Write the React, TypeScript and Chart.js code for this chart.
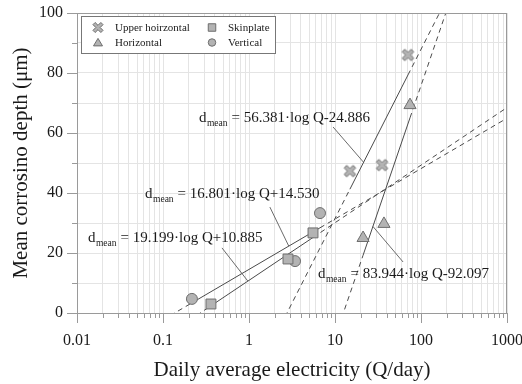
import React, { useEffect, useRef } from 'react';
import { Chart, registerables } from 'chart.js';

Chart.register(...registerables);

const SERIF = '"Liberation Serif", "Times New Roman", serif';

// ---------- data ----------
const seriesNames = ['Upper hoirzontal', 'Horizontal', 'Skinplate', 'Vertical'];

const upperHorizontalQ = [14.9, 35.2, 70.6];
const upperHorizontalD = [47.3, 49.3, 86.0];
const horizontalQ = [21.2, 37.1, 74.5];
const horizontalD = [25.0, 29.7, 69.3];
const skinplateQ = [0.361, 2.84, 5.55];
const skinplateD = [3.0, 18.0, 26.7];
const verticalQ = [0.217, 3.43, 6.69];
const verticalD = [4.7, 17.3, 33.3];

// fitted lines: d_mean = slope * log Q + intercept
const fitSlope = [56.381, 83.944, 19.199, 16.801];
const fitIntercept = [-24.886, -92.097, 10.885, 14.53];

const xTickValues = [0.01, 0.1, 1, 10, 100, 1000];
const xTickLabels = ['0.01', '0.1', '1', '10', '100', '1000'];
const yTickLabels = ['0', '20', '40', '60', '80', '100'];

// equation label placement (data coordinates)
const labelAnchorQ = [0.262, 6.34, 0.0134, 0.0618];
const labelAnchorD = [63.7, 11.7, 23.7, 38.3];
const leaderStartQ = [9.5, 61.9, 0.485, 1.75];
const leaderStartD = [62, 17, 21.7, 35.3];
const leaderEndQ = [21.5, 27.6, 0.97, 2.9];

// ---------- styles ----------
const FILL = '#b3b3b3';
const STROKE = '#6e6e6e';
const LINE = '#4a4a4a';
const GRID = '#e4e4e4';
const AXIS = '#9a9a9a';
const TEXT = '#1a1a1a';

function crossPath(g: CanvasRenderingContext2D, cx: number, cy: number, L: number, w: number) {
  const pts = [[-w, -L], [w, -L], [w, -w], [L, -w], [L, w], [w, w], [w, L], [-w, L], [-w, w], [-L, w], [-L, -w], [-w, -w]];
  const c = Math.SQRT1_2;
  g.beginPath();
  pts.forEach(([x, y], i) => {
    const px = cx + (x - y) * c;
    const py = cy + (x + y) * c;
    if (i) g.lineTo(px, py); else g.moveTo(px, py);
  });
  g.closePath();
}

function makeCross(size: number, L: number, w: number): HTMLCanvasElement {
  const c = document.createElement('canvas');
  c.width = size;
  c.height = size;
  const g = c.getContext('2d')!;
  crossPath(g, size / 2, size / 2, L, w);
  g.fillStyle = FILL;
  g.fill();
  g.lineWidth = 1;
  g.strokeStyle = STROKE;
  g.stroke();
  return c;
}

function drawMarker(g: CanvasRenderingContext2D, kind: number, x: number, y: number, s: number) {
  g.save();
  g.fillStyle = FILL;
  g.strokeStyle = STROKE;
  g.lineWidth = 1;
  if (kind === 0) {
    crossPath(g, x, y, s * 0.62, s * 0.17);
  } else if (kind === 1) {
    g.beginPath();
    g.moveTo(x, y - s * 0.55);
    g.lineTo(x + s * 0.6, y + s * 0.45);
    g.lineTo(x - s * 0.6, y + s * 0.45);
    g.closePath();
  } else if (kind === 2) {
    g.beginPath();
    g.rect(x - s / 2, y - s / 2, s, s);
  } else {
    g.beginPath();
    g.arc(x, y, s / 2, 0, Math.PI * 2);
  }
  g.fill();
  g.stroke();
  g.restore();
}

function fmtEq(i: number) {
  const b = fitIntercept[i];
  return `= ${fitSlope[i].toFixed(3)}\u00B7log Q${b < 0 ? '-' : '+'}${Math.abs(b).toFixed(3)}`;
}

export default function App() {
  const ref = useRef<HTMLCanvasElement>(null);

  useEffect(() => {
    document.body.style.margin = '0';
    const canvas = ref.current!;
    const cross = makeCross(15, 6.3, 1.8);
    const fit = (i: number, q: number) => fitSlope[i] * Math.log10(q) + fitIntercept[i];
    const seriesQ = [upperHorizontalQ, horizontalQ, skinplateQ, verticalQ];
    const seriesD = [upperHorizontalD, horizontalD, skinplateD, verticalD];
    const styles: any[] = [cross, 'triangle', 'rect', 'circle'];
    const radii = [6, 7, 7, 5.5];
    const xMin = xTickValues[0];
    const xMax = xTickValues[xTickValues.length - 1];

    const datasets: any[] = [];
    seriesQ.forEach((qs, i) => {
      const lo = Math.min(...qs);
      const hi = Math.max(...qs);
      const xs = [xMin, lo, hi, xMax];
      datasets.push({
        type: 'line',
        data: xs.map((q) => ({ x: q, y: fit(i, q) })),
        borderColor: LINE,
        borderWidth: 1,
        pointRadius: 0,
        fill: false,
        tension: 0,
        order: 2,
        segment: {
          borderDash: (ctx: any) => (ctx.p0DataIndex === 1 ? [] : [5, 4]),
        },
      });
    });
    seriesQ.forEach((qs, i) => {
      datasets.push({
        type: 'scatter',
        label: seriesNames[i],
        data: qs.map((q, j) => ({ x: q, y: seriesD[i][j] })),
        pointStyle: styles[i],
        pointRadius: radii[i],
        backgroundColor: FILL,
        borderColor: STROKE,
        borderWidth: 1,
        order: 1,
      });
    });

    const decor = {
      id: 'decor',
      afterDraw(chart: any) {
        const g: CanvasRenderingContext2D = chart.ctx;
        const a = chart.chartArea;
        const xs = chart.scales.x;
        const ys = chart.scales.y;
        g.save();
        // frame
        g.strokeStyle = AXIS;
        g.lineWidth = 1;
        g.strokeRect(Math.round(a.left) + 0.5, Math.round(a.top) + 0.5, Math.round(a.right - a.left) - 1, Math.round(a.bottom - a.top));
        // x tick marks
        xs.ticks.forEach((t: any) => {
          const e = Math.log10(t.value);
          const major = Math.abs(e - Math.round(e)) < 1e-9;
          const px = Math.round(xs.getPixelForValue(t.value)) + 0.5;
          g.beginPath();
          g.moveTo(px, Math.round(a.bottom));
          g.lineTo(px, Math.round(a.bottom) + (major ? 10 : 5));
          g.stroke();
        });
        // y tick marks
        ys.ticks.forEach((t: any) => {
          const major = t.value % 20 === 0;
          const py = Math.round(ys.getPixelForValue(t.value)) + 0.5;
          g.beginPath();
          g.moveTo(Math.round(a.left), py);
          g.lineTo(Math.round(a.left) - (major ? 10 : 5), py);
          g.stroke();
        });

        // equation annotations
        g.textAlign = 'left';
        g.textBaseline = 'alphabetic';
        g.fillStyle = TEXT;
        for (let i = 0; i < 4; i++) {
          const x0 = xs.getPixelForValue(labelAnchorQ[i]);
          const y0 = ys.getPixelForValue(labelAnchorD[i]);
          g.font = `15px ${SERIF}`;
          g.fillText('d', x0, y0);
          let x = x0 + g.measureText('d').width + 0.5;
          g.font = `9.5px ${SERIF}`;
          g.fillText('mean', x, y0 + 4);
          x += g.measureText('mean').width + 4;
          g.font = `15px ${SERIF}`;
          g.fillText(fmtEq(i), x, y0);
          // leader line
          g.strokeStyle = '#5a5a5a';
          g.lineWidth = 0.9;
          g.beginPath();
          g.moveTo(xs.getPixelForValue(leaderStartQ[i]), ys.getPixelForValue(leaderStartD[i]));
          g.lineTo(xs.getPixelForValue(leaderEndQ[i]), ys.getPixelForValue(fit(i, leaderEndQ[i])));
          g.stroke();
        }

        // legend
        const lx = 81.5, ly = 16.5, lw = 194, lh = 37;
        g.fillStyle = '#ffffff';
        g.fillRect(lx, ly, lw, lh);
        g.strokeStyle = '#777777';
        g.lineWidth = 1;
        g.strokeRect(lx, ly, lw, lh);
        const markerX = [98, 212];
        const textX = [115, 228];
        const rowY = [27.5, 42.5];
        g.font = `11px ${SERIF}`;
        g.textBaseline = 'middle';
        seriesNames.forEach((name, i) => {
          const col = Math.floor(i / 2);
          const row = i % 2;
          drawMarker(g, i, markerX[col], rowY[row], i === 0 ? 9 : 7.5);
          g.fillStyle = TEXT;
          g.fillText(name, textX[col], rowY[row] + 0.5);
        });
        g.restore();
      },
    };

    const chart = new Chart(canvas, {
      type: 'scatter',
      data: { datasets },
      options: {
        responsive: false,
        animation: false,
        events: [],
        layout: { padding: { top: 13, right: 15, left: 0, bottom: 0 } },
        plugins: { legend: { display: false }, tooltip: { enabled: false } },
        scales: {
          x: {
            type: 'logarithmic',
            min: xMin,
            max: xMax,
            afterBuildTicks(scale: any) {
              const ticks: any[] = [];
              for (let e = -2; e <= 2; e++) {
                for (let s = 1; s <= 9; s++) ticks.push({ value: s * Math.pow(10, e) });
              }
              ticks.push({ value: xMax });
              scale.ticks = ticks;
            },
            afterFit(scale: any) {
              scale.height = 71;
              scale.paddingLeft = 0;
              scale.paddingRight = 0;
            },
            ticks: {
              autoSkip: false,
              maxRotation: 0,
              minRotation: 0,
              padding: 18,
              color: TEXT,
              font: { family: SERIF, size: 16 },
              callback: (v: any) => {
                const e = Math.log10(Number(v));
                if (Math.abs(e - Math.round(e)) < 1e-9) return xTickLabels[Math.round(e) + 2];
                return '';
              },
            },
            grid: { color: GRID, drawTicks: false },
            border: { display: false },
            title: {
              display: true,
              text: 'Daily average electricity (Q/day)',
              color: TEXT,
              font: { family: SERIF, size: 21 },
              padding: { top: 0, bottom: 1 },
            },
          },
          y: {
            type: 'linear',
            min: 0,
            max: 100,
            afterFit(scale: any) {
              scale.width = 77;
              scale.paddingTop = 0;
              scale.paddingBottom = 0;
            },
            ticks: {
              stepSize: 10,
              padding: 14,
              color: TEXT,
              font: { family: SERIF, size: 16 },
              callback: (v: any) => (Number(v) % 20 === 0 ? yTickLabels[Number(v) / 20] : ''),
            },
            grid: { color: GRID, drawTicks: false },
            border: { display: false },
            title: {
              display: true,
              text: 'Mean corrosino depth (\u03BCm)',
              color: TEXT,
              font: { family: SERIF, size: 21 },
              padding: { top: 9, bottom: 0 },
            },
          },
        },
      },
      plugins: [decor],
    } as any);

    return () => chart.destroy();
  }, []);

  return <canvas ref={ref} width={522} height={384} style={{ display: 'block' }} />;
}
